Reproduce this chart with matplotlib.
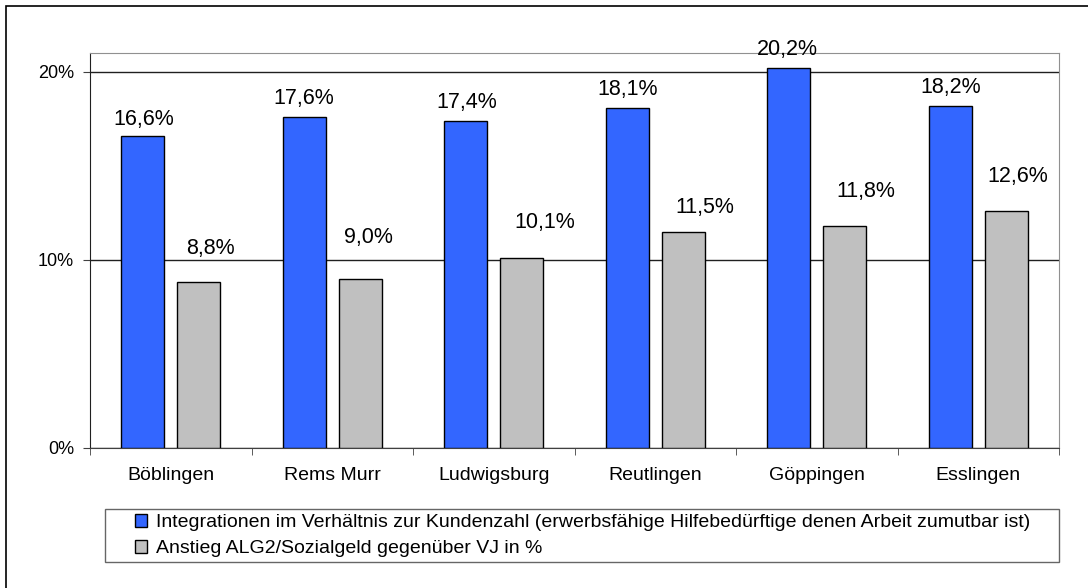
import numpy as np
import matplotlib.pyplot as plt
from matplotlib.patches import Rectangle, Patch
from matplotlib.legend_handler import HandlerPatch
from matplotlib.ticker import FixedLocator, FuncFormatter

plt.rcParams['font.family'] = ['Liberation Sans', 'DejaVu Sans']

kreise = ["Böblingen", "Rems Murr", "Ludwigsburg", "Reutlingen", "Göppingen", "Esslingen"]
integrationen = [16.6, 17.6, 17.4, 18.1, 20.2, 18.2]
anstieg = [8.8, 9.0, 10.1, 11.5, 11.8, 12.6]
namen = ["Integrationen im Verhältnis zur Kundenzahl (erwerbsfähige Hilfebedürftige denen Arbeit zumutbar ist)",
         "Anstieg ALG2/Sozialgeld gegenüber VJ in %"]

# hand-placed data labels in the original (pixel shift right, pixel gap above bar)
shift_blau = [(1, 11), (0, 13), (1, 13), (0, 13), (-1, 13), (1, 13)]
shift_grau = [(12, 28), (8, 36), (23, 30), (21, 19), (21, 29), (11, 29)]

W, H = 1088, 588
fig = plt.figure(figsize=(W / 100, H / 100), dpi=100)
# outer chart frame (only left and top visible)
fig.add_artist(Rectangle((6 / W, -0.1), 1.2, (H - 6) / H + 0.1, transform=fig.transFigure,
                         fill=False, edgecolor='black', lw=1.2))

ax = fig.add_axes([90 / W, (H - 448) / H, (1059 - 90) / W, (448 - 53) / H])

x = np.arange(len(kreise))
bw = 0.266
off = 0.174
b1 = ax.bar(x - off, integrationen, bw, color='#3366FF', edgecolor='black', lw=1, zorder=3)
b2 = ax.bar(x + off, anstieg, bw, color='#C0C0C0', edgecolor='black', lw=1, zorder=3)

px = 0.72  # points per pixel at dpi 100
for bars, vals, shifts in ((b1, integrationen, shift_blau), (b2, anstieg, shift_grau)):
    for r, v, (dx, dy) in zip(bars, vals, shifts):
        ax.annotate(f"{v:.1f}%".replace('.', ','), (r.get_x() + r.get_width() / 2, v),
                    xytext=(dx * px, dy * px), textcoords='offset points', ha='center', va='baseline',
                    fontsize=15.5, zorder=4, annotation_clip=False)

ax.set_xlim(-0.5, len(kreise) - 0.5)
ax.set_ylim(0, 21)
ax.set_yticks([0, 10, 20])
ax.yaxis.set_major_formatter(FuncFormatter(lambda v, p: f"{v:.0f}%"))
ax.grid(axis='y', color='#202020', lw=1, zorder=1)
ax.set_xticks(x)
ax.set_xticklabels(kreise)
ax.xaxis.set_minor_locator(FixedLocator(np.arange(-0.5, len(kreise), 1)))
ax.tick_params(axis='x', which='major', length=0, pad=14, labelsize=14)
ax.tick_params(axis='x', which='minor', length=5, color='#404040', direction='out')
ax.tick_params(axis='y', length=5, pad=6.5, labelsize=13, color='#404040')
ax.spines['top'].set_color('#909090')
ax.spines['right'].set_color('#909090')
ax.spines['left'].set_color('#202020')
ax.spines['bottom'].set_color('#404040')


# small square marker at the right end of the handle area
def square(legend, orig_handle, xdescent, ydescent, width, height, fontsize):
    s = 9.2
    return Rectangle((width - s - xdescent, (height - s) / 2 - ydescent), s, s)


handles = [Patch(facecolor='#3366FF', edgecolor='black'), Patch(facecolor='#C0C0C0', edgecolor='black')]
leg = fig.legend(handles, namen, loc='center left', mode='expand',
                 bbox_to_anchor=(105 / W, (H - 564) / H, (1059 - 105) / W, 57 / H),
                 fontsize=14, frameon=True, fancybox=False, edgecolor='#404040',
                 handlelength=1.93, handleheight=0.7, handletextpad=0.42, labelspacing=0.42,
                 borderpad=0.25, borderaxespad=0,
                 handler_map={Patch: HandlerPatch(patch_func=square)})
leg.get_frame().set_linewidth(1)

fig.savefig("out.png", dpi=100)
